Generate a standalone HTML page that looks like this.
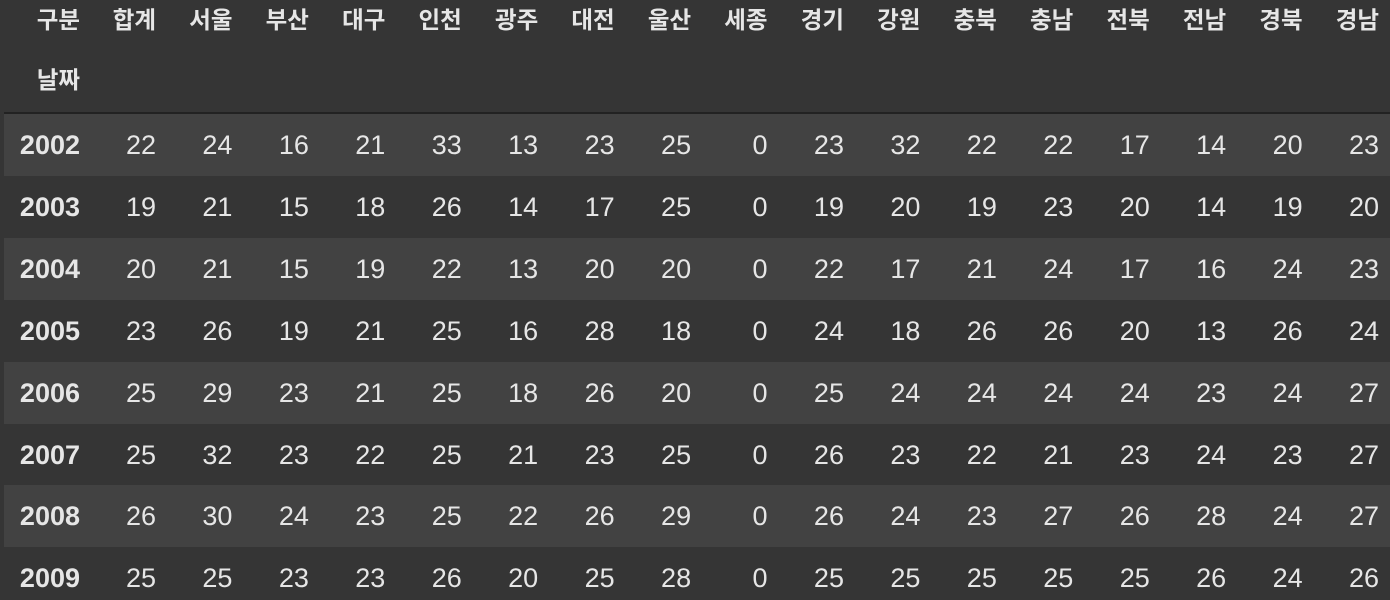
<!DOCTYPE html>
<html><head><meta charset="utf-8"><style>
body{margin:0;width:1390px;height:600px;overflow:hidden;background:#353535;font-family:"Liberation Sans","Noto Sans CJK KR",sans-serif;color:#e6e6e6;position:relative}
.c{position:absolute;text-align:right;white-space:nowrap;line-height:30px;height:30px}
.h{font-weight:bold;font-size:23.5px}
.n{font-size:27px}
.i{font-size:27px;font-weight:bold}
.stripe{position:absolute;left:4px;width:1386px;height:62px;background:#424242}
.line{position:absolute;left:4px;width:1386px;top:112px;height:2px;background:#222}
</style></head><body>
<div class="line"></div>
<div id="t"></div>
<script>
const columns=["합계","서울","부산","대구","인천","광주","대전","울산","세종","경기","강원","충북","충남","전북","전남","경북","경남"];
const years=["2002","2003","2004","2005","2006","2007","2008","2009"];
const r2002=[22,24,16,21,33,13,23,25,0,23,32,22,22,17,14,20,23];
const r2003=[19,21,15,18,26,14,17,25,0,19,20,19,23,20,14,19,20];
const r2004=[20,21,15,19,22,13,20,20,0,22,17,21,24,17,16,24,23];
const r2005=[23,26,19,21,25,16,28,18,0,24,18,26,26,20,13,26,24];
const r2006=[25,29,23,21,25,18,26,20,0,25,24,24,24,24,23,24,27];
const r2007=[25,32,23,22,25,21,23,25,0,26,23,22,21,23,24,23,27];
const r2008=[26,30,24,23,25,22,26,29,0,26,24,23,27,26,28,24,27];
const r2009=[25,25,23,23,26,20,25,28,0,25,25,25,25,25,26,24,26];
const rows=[r2002,r2003,r2004,r2005,r2006,r2007,r2008,r2009];
const t=document.getElementById('t');
function colRight(j){return 156+j*76.44;}
function rowTop(i){return 114+i*61.9;}
function cell(txt,right,cy,cls){
  const d=document.createElement('div');d.className='c '+cls;d.textContent=txt;
  d.style.right=(1390-right)+'px';d.style.top=(cy-15)+'px';t.appendChild(d);return d;}
let d=cell('구분',80,20,'h');


d=cell('날짜',80,80,'h');


columns.forEach((c,j)=>{
  const e=cell(c,colRight(j),20,'h');
  
  
});
rows.forEach((r,i)=>{
  const top=rowTop(i);
  if(i%2===0){const s=document.createElement('div');s.className='stripe';s.style.top=top+'px';
    
    
    t.appendChild(s);}
  const cy=top+31;
  const y=cell(years[i],80,cy,'i');
  
  
  r.forEach((v,j)=>{
    const e=cell(String(v),colRight(j),cy,'n');
    
    
  });
});
</script>
</body></html>
